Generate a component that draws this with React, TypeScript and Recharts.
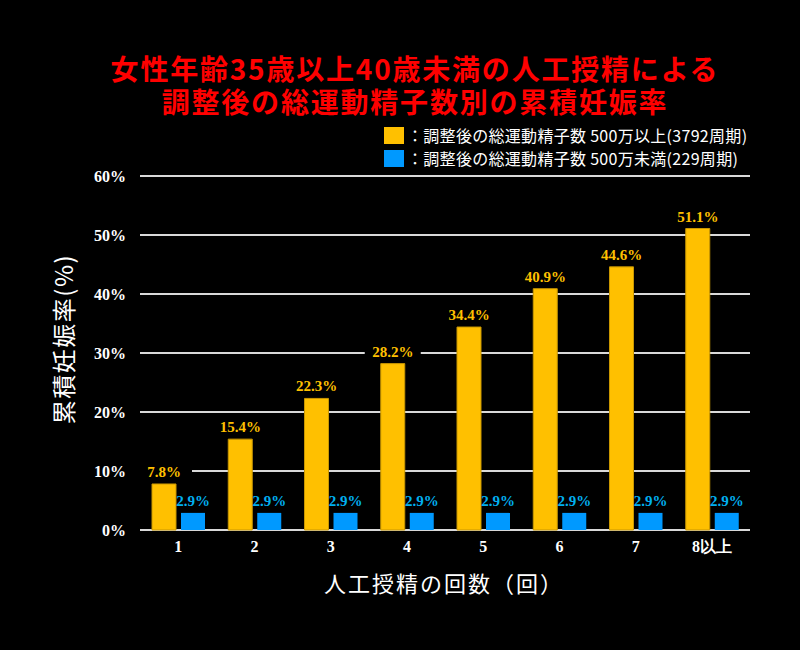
import { BarChart, Bar, XAxis, YAxis, CartesianGrid, LabelList } from 'recharts';

const categories = ['1', '2', '3', '4', '5', '6', '7', '8以上'];
const over5m = [7.8, 15.4, 22.3, 28.2, 34.4, 40.9, 44.6, 51.1];
const under5m = [2.9, 2.9, 2.9, 2.9, 2.9, 2.9, 2.9, 2.9];
const yTicks = [0, 10, 20, 30, 40, 50, 60];

const titleLines = ['女性年齢35歳以上40歳未満の人工授精による', '調整後の総運動精子数別の累積妊娠率'];
const legendItems = [
  { label: '：調整後の総運動精子数 500万以上(3792周期)', color: '#ffc000' },
  { label: '：調整後の総運動精子数 500万未満(229周期)', color: '#0099ff' },
];

const chartData = categories.map((name, i) => ({
  name,
  over: over5m[i],
  under: under5m[i],
}));

const SANS = '"Noto Sans CJK JP", "Noto Sans", sans-serif';
const SERIF = '"Liberation Serif", "DejaVu Serif", serif';

const makeLabel = (color: string, withBg: boolean) => (props: any) => {
  const { x, y, width, value } = props;
  const cx = Number(x) + Number(width) / 2;
  const ty = Number(y) - 7;
  return (
    <g>
      {withBg && <rect x={cx - 28} y={ty - 14} width={56} height={17} fill="#000" />}
      <text
        x={cx}
        y={ty}
        textAnchor="middle"
        fill={color}
        fontSize={15}
        fontWeight="bold"
        fontFamily={SERIF}
      >
        {`${value}%`}
      </text>
    </g>
  );
};

export default function App() {
  return (
    <div
      style={{
        position: 'absolute',
        left: 0,
        top: 0,
        width: 800,
        height: 650,
        background: '#000',
        overflow: 'hidden',
      }}
    >
      <div
        style={{
          position: 'absolute',
          left: 15,
          width: 800,
          top: 52,
          textAlign: 'center',
          color: '#ff0000',
          fontFamily: SANS,
          fontWeight: 700,
          fontSize: 28,
          letterSpacing: 1.8,
          lineHeight: '33px',
          whiteSpace: 'nowrap',
        }}
      >
        {titleLines[0]}
        <br />
        {titleLines[1]}
      </div>

      {legendItems.map((item, i) => (
        <div
          key={item.label}
          style={{
            position: 'absolute',
            left: 384,
            top: 125 + i * 23,
            height: 20,
            display: 'flex',
            alignItems: 'center',
            whiteSpace: 'nowrap',
          }}
        >
          <div style={{ width: 20, height: 17, background: item.color }} />
          <span
            style={{
              color: '#fff',
              fontFamily: SANS,
              fontSize: 16,
              letterSpacing: 0.3,
              marginLeft: 3,
              lineHeight: '20px',
            }}
          >
            {item.label}
          </span>
        </div>
      ))}

      <div style={{ position: 'absolute', left: 0, top: 0 }}>
        <BarChart
          width={800}
          height={650}
          data={chartData}
          margin={{ top: 176, right: 50, bottom: 90, left: 80 }}
          barSize={24}
          barGap={5}
        >
          <CartesianGrid horizontal vertical={false} stroke="#d9d9d9" strokeWidth={2} />
          <XAxis
            dataKey="name"
            height={30}
            axisLine={false}
            tickLine={false}
            tickSize={6}
            tickMargin={5}
            tick={{ fill: '#fff', fontSize: 16, fontWeight: 'bold', fontFamily: SERIF }}
            interval={0}
          />
          <YAxis
            width={60}
            domain={[0, 60]}
            ticks={yTicks}
            axisLine={false}
            tickLine={false}
            tickSize={6}
            tickMargin={8}
            tickFormatter={(v) => `${v}%`}
            tick={{ fill: '#fff', fontSize: 16, fontWeight: 'bold', fontFamily: SERIF }}
          />
          <Bar dataKey="over" fill="#ffc000" stroke="#c89600" strokeWidth={1} isAnimationActive={false}>
            <LabelList dataKey="over" content={makeLabel('#ffc000', true)} />
          </Bar>
          <Bar dataKey="under" fill="#0099ff" isAnimationActive={false}>
            <LabelList dataKey="under" content={makeLabel('#00b0f0', false)} />
          </Bar>
        </BarChart>
      </div>

      <div
        style={{
          position: 'absolute',
          left: 63 - 100,
          top: 339 - 15,
          width: 200,
          height: 30,
          transform: 'rotate(-90deg)',
          textAlign: 'center',
          color: '#fff',
          fontFamily: SANS,
          fontSize: 24,
          letterSpacing: 1.5,
          lineHeight: '30px',
          whiteSpace: 'nowrap',
        }}
      >
        累積妊娠率(%)
      </div>

      <div
        style={{
          position: 'absolute',
          left: 444 - 200,
          top: 582 - 15,
          width: 400,
          textAlign: 'center',
          color: '#fff',
          fontFamily: SANS,
          fontSize: 22,
          letterSpacing: 2,
          lineHeight: '30px',
          whiteSpace: 'nowrap',
        }}
      >
        人工授精の回数（回）
      </div>
    </div>
  );
}
